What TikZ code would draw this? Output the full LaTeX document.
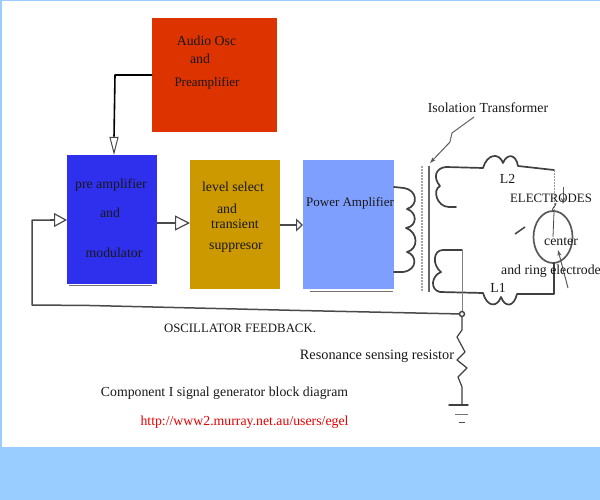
\documentclass[tikz,border=0pt]{standalone}
\usepackage{fontspec}
\setmainfont{Liberation Serif}
\usetikzlibrary{arrows.meta}
\definecolor{skyback}{HTML}{99CCFF}
\definecolor{oscred}{HTML}{DD3300}
\definecolor{preblue}{HTML}{2F2FEE}
\definecolor{levelgold}{HTML}{CC9900}
\definecolor{powerblue}{HTML}{7F9FFF}
\definecolor{wire}{HTML}{4A4A4A}
\tikzset{
  blockbox/.style={inner sep=0pt,outer sep=0pt,draw=none},
  txt/.style={anchor=base,inner sep=0pt,font=\fontsize{13.8}{14}\selectfont,text=black!90},
  txtcaps/.style={txt,font=\fontsize{12.8}{14}\selectfont},
  txtmid/.style={txt,font=\fontsize{13}{14}\selectfont},
  wireline/.style={draw=wire,line width=1.5pt,line join=round},
  darkline/.style={draw=black,line width=1.6pt,line join=round},
  thinline/.style={draw=wire,line width=0.8pt},
  flowhead/.style={wireline,line width=1.3pt},
  coilline/.style={draw=black!75,line width=1.7pt,line cap=round,line join=round},
  shadowline/.style={draw=black!55,line width=1pt},
  pointer/.style={draw=black!65,line width=1pt,-{Stealth[length=6pt,width=4pt]}}
}
\begin{document}
\begin{tikzpicture}[x=1pt,y=-1pt]
\useasboundingbox (0,0) rectangle (600,500);
\fill[skyback] (0,0) rectangle (600,500);
\fill[white] (2,1) rectangle (600,447);

% blocks
\node[blockbox,fill=oscred,minimum width=125pt,minimum height=114pt] (osc) at (214.5,75) {};
\node[blockbox,fill=preblue,minimum width=90pt,minimum height=129pt] (pre) at (112,219.5) {};
\node[blockbox,fill=levelgold,minimum width=90pt,minimum height=129pt] (level) at (235,224.5) {};
\node[blockbox,fill=powerblue,minimum width=91pt,minimum height=129pt] (power) at (348.5,224.5) {};
\draw[shadowline] (69,285) -- (152,285);
\draw[shadowline] (310,291) -- (393,291);

% named points
\coordinate (oscbend) at (115,75);
\coordinate (fbstart) at (462,314);
\coordinate (fbcorner) at (32,305);
\coordinate (fbup) at (32,220);
\coordinate (primtop) at (394,187);
\coordinate (primbot) at (394,272);
\coordinate (ringtop) at (554,212);
\coordinate (ringbot) at (554,263);
\coordinate (ringmid) at (553,237);
\coordinate (gnd) at (462,405);

% flow connectors
\draw[darkline] (osc.west) -- (oscbend) -- (114,138);
\draw[flowhead,-{Triangle[open,length=18pt,width=9pt,line width=1pt]}] (114,136) -- (114,155);
\draw[flowhead,-{Triangle[open,length=15pt,width=15pt,line width=1.2pt]}] (157,223) -- (level.west |- 0,223);
\draw[flowhead,-{Triangle[open,length=7pt,width=13pt,line width=1.2pt]}] (280,225) -- (power.west |- 0,225);
\draw[wireline] (fbstart) -- (300,310.5) -- (90,305.5) -- (fbcorner) -- (fbup) -- (54,220);
\draw[flowhead,-{Triangle[open,length=13pt,width=14pt,line width=1.2pt]}] (50,220) -- (pre.west |- 0,220);

% primary coil
\draw[coilline] (primtop) -- (404,188) .. controls (417,190) and (419,205) .. (407,209)
  .. controls (417,212) and (418,226) .. (406,228)
  .. controls (418,232) and (419,249) .. (407,252)
  .. controls (417,255) and (418,270) .. (403,272) -- (primbot);

% transformer core
\draw[draw=black!35,line width=2.2pt,dash pattern=on 2pt off 1pt] (422,166) -- (422,292);
\draw[draw=black!60,line width=1.3pt] (429,166) -- (429,292);

% upper secondary and L2
\draw[coilline] (456,207) -- (449,207) .. controls (437,207) and (432,190) .. (440,186)
  .. controls (433,178) and (435,168) .. (446,167) -- (483,168)
  .. controls (487,154) and (499,152) .. (503,163)
  .. controls (507,153) and (516,154) .. (518,166) -- (554,170);
\draw[draw=black!40,line width=1pt,dash pattern=on 2pt off 1pt] (554,170) -- (ringtop);

% electrode ring
\draw[draw=black!65,line width=1.7pt] (ringmid) ellipse [x radius=19.5pt,y radius=26pt];
\draw[thinline] (ringtop) -- (ringmid);

% lower secondary and L1
\draw[coilline] (462,250) -- (443,250) .. controls (433,250) and (432,265) .. (441,272)
  .. controls (431,276) and (430,290) .. (440,292) -- (483,293)
  .. controls (487,307) and (497,308) .. (501,297)
  .. controls (505,308) and (514,307) .. (517,294) -- (554,294) -- (ringbot);
\draw[draw=black!50,line width=1pt] (462,250) -- (fbstart);

% sensing node, resistor, ground
\node[circle,draw=black!75,line width=1.4pt,fill=white,inner sep=0pt,minimum size=5pt] (sense) at (fbstart) {};
\draw[coilline,line width=1.2pt] (sense) -- (462,330) -- (457,337) -- (465,352) -- (457,360) -- (467,368) -- (458,377) -- (462,387) -- (gnd);
\draw[coilline,line width=1.4pt] (449,405) -- (468,405);
\draw[draw=black!55,line width=0.9pt] (455,414) -- (468,414);
\draw[draw=black!70,line width=0.9pt] (459,422) -- (465,422);

% pointers
\coordinate (isoA) at (474,117);
\coordinate (isoB) at (452,133);
\coordinate (isoC) at (450,142);
\coordinate (isoD) at (430,163);
\draw[draw=black!60,line width=1pt] (isoA) -- (isoB) -- (isoC);
\draw[pointer] (isoC) -- (isoD);
\draw[draw=black!70,line width=1.6pt] (515,234) -- (525,227);
\draw[pointer] (563,187) -- (563,204);
\draw[pointer] (568,288) -- (558,250);
\draw[draw=black!70,line width=0.9pt] (553,212) .. controls (551,207) and (556,207) .. (556,203);

% texts
\node[txt] (t1) at (206.5,46) {Audio Osc};
\node[txt] (t2) at (200,64) {and};
\node[txtmid] (t3) at (207,87) {Preamplifier};
\node[txt] (t4) at (111,189) {pre amplifier};
\node[txt] (t5) at (110,218) {and};
\node[txt] (t6) at (114,257) {modulator};
\node[txt] (t7) at (233,192) {level select};
\node[txt] (t8) at (227,213) {and};
\node[txt] (t9) at (235,229) {transient};
\node[txt] (t10) at (236,249) {suppresor};
\node[txtmid] (t11) at (350,207) {Power Amplifier};
\node[txt] (t12) at (488,113) {Isolation Transformer};
\node[txt] (t13) at (507.5,183) {L2};
\node[txtcaps] (t14) at (551,203) {ELECTRODES};
\node[txt] (t15) at (561,245) {center};
\node[txt] (t16) at (551,274) {and ring electrode};
\node[txt] (t17) at (498,292) {L1};
\node[txtcaps] (t18) at (240,332) {OSCILLATOR FEEDBACK.};
\node[txt,font=\fontsize{14.3}{15}\selectfont] (t19) at (377,359) {Resonance sensing resistor};
\node[txt] (t20) at (224.5,396) {Component I signal generator block diagram};
\node[txt,text=red!90!black] (t21) at (244.5,425) {http://www2.murray.net.au/users/egel};
\end{tikzpicture}
\end{document}
